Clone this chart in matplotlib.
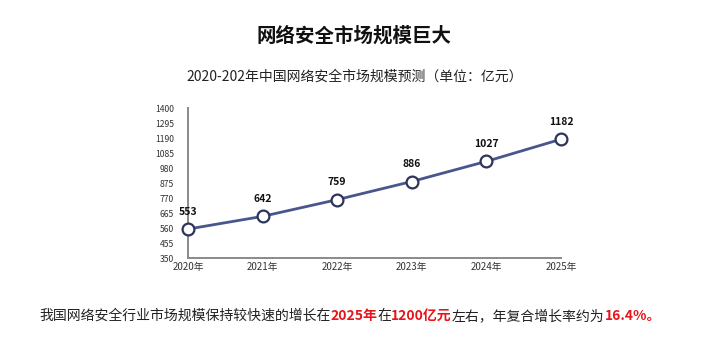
import matplotlib
matplotlib.use("Agg")
import matplotlib.pyplot as plt

plt.rcParams['font.family'] = ['Noto Sans CJK SC', 'DejaVu Sans']

years = ["2020年", "2021年", "2022年", "2023年", "2024年", "2025年"]
market = [553, 642, 759, 886, 1027, 1182]
yticks = [350, 455, 560, 665, 770, 875, 980, 1085, 1190, 1295, 1400]

note_parts = [
    ("我国网络安全行业市场规模保持较快速的增长在", "#222222", "normal"),
    ("2025年", "#e8141b", "bold"),
    ("在", "#222222", "normal"),
    ("1200亿元", "#e8141b", "bold"),
    ("左右，年复合增长率约为", "#222222", "normal"),
    ("16.4%。", "#e8141b", "bold"),
]

fig = plt.figure(figsize=(7.2, 3.4), dpi=100)
ax = fig.add_axes([0.2611, 0.241, 0.518, 0.441])

xs = list(range(len(years)))
ax.plot(xs, market, color="#48568e", lw=2, marker="o", ms=8.5,
        mfc="white", mec="#2c3459", mew=1.6, clip_on=False, zorder=3)
for x, v in zip(xs, market):
    ax.annotate(str(v), (x, v), xytext=(0, 9), textcoords="offset points",
                ha="center", va="bottom", fontsize=7.5, fontweight="bold",
                color="#111111")

ax.set_xlim(0, 5)
ax.set_ylim(350, 1400)
ax.set_xticks(xs)
ax.set_xticklabels(years, fontsize=7, color="#333333")
ax.set_yticks(yticks)
ax.set_yticklabels([str(t) for t in yticks], fontsize=6.2, color="#333333")
ax.tick_params(length=0)
ax.tick_params(axis="y", pad=10)
ax.tick_params(axis="x", pad=3)
for s in ["top", "right"]:
    ax.spines[s].set_visible(False)
for s in ["left", "bottom"]:
    ax.spines[s].set_color("#8a8a8a")
    ax.spines[s].set_linewidth(1.4)

fig.text(0.492, 0.895, "网络安全市场规模巨大", ha="center", va="center",
         fontsize=14, fontweight="bold", color="#111111")
fig.text(0.492, 0.775, "2020-202年中国网络安全市场规模预测（单位：亿元）",
         ha="center", va="center", fontsize=10, color="#222222")

# bottom note drawn piece by piece so the highlighted parts can be red
fig.canvas.draw()
renderer = fig.canvas.get_renderer()
pieces = []
total = 0
for txt, col, wt in note_parts:
    t = fig.text(0, 0.07, txt, fontsize=10, color=col, fontweight=wt,
                 ha="left", va="center")
    w = t.get_window_extent(renderer).width
    pieces.append((t, w))
    total += w
x0 = 350 - total / 2
for t, w in pieces:
    t.set_x(x0 / 720)
    x0 += w

fig.savefig("out.png", dpi=100)
